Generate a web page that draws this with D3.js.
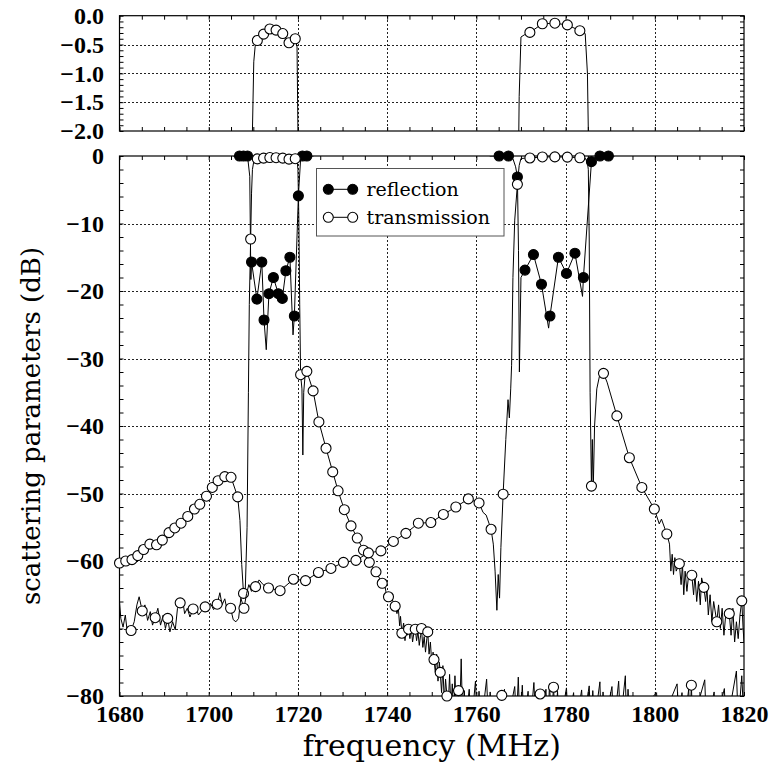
<!DOCTYPE html>
<html>
<head>
<meta charset="utf-8">
<script src="https://cdn.jsdelivr.net/npm/d3@7"></script>
<style>
  body { margin: 0; background: #fff; }
  svg { display: block; }
</style>
</head>
<body>
<svg id="chart" width="769" height="769"></svg>
<script>
// ---- axis ticks -------------------------------------------------------
const xMajor = [1680, 1700, 1720, 1740, 1760, 1780, 1800, 1820];
const xMinorStep = 5;
const mainYTicks = [0, -10, -20, -30, -40, -50, -60, -70, -80];
const mainYMinorStep = 2;
const topYTicks = [0, -0.5, -1.0, -1.5, -2.0];
const topYMinorStep = 0.1;

// ---- filter 1 (1710-1720 MHz band) -----------------------------------
// transmission, marked samples [MHz, dB]
const t1Marks = [
  [1680.0,-60.3],[1681.4,-60.0],[1682.8,-59.8],[1684.1,-59.2],[1685.4,-58.3],[1686.8,-57.5],
  [1688.3,-57.6],[1689.6,-56.9],[1691.1,-55.8],[1692.4,-55.1],[1693.8,-54.4],[1695.3,-53.4],
  [1696.8,-52.3],[1698.0,-51.6],[1699.5,-50.4],[1700.8,-49.1],[1702.1,-48.1],[1703.6,-47.5],
  [1705.0,-47.6],[1706.5,-50.5],[1707.8,-64.8],[1709.4,-12.3],[1710.9,-0.43],[1712.3,-0.32],
  [1713.7,-0.23],[1715.1,-0.25],[1716.6,-0.31],[1718.0,-0.47],[1719.4,-0.40],[1720.6,-32.4],
  [1722.0,-31.9],[1723.4,-34.8],[1724.7,-39.4],[1726.3,-43.3],[1727.8,-46.8],[1729.0,-49.6],
  [1730.4,-52.4],[1731.9,-54.8],[1733.3,-56.6],[1734.7,-58.4],[1736.0,-60.2],[1737.5,-61.6],
  [1738.9,-63.3],[1740.3,-65.3],[1741.8,-66.7],[1743.3,-70.7],[1744.8,-70.1],[1746.3,-70.1],
  [1747.7,-70.0],[1749.1,-70.5],[1750.5,-74.6],[1751.9,-76.5],[1753.4,-80.0],[1756.0,-79.2],
  [1765.7,-79.9],[1774.3,-79.7],[1777.3,-78.7],[1808.2,-78.4]
];
// transmission, remaining trace samples
const t1Trace = [
  [1707.0,-54.0],[1707.4,-60.5],[1708.2,-64.2],[1708.6,-55.0],[1708.9,-35.0],[1709.1,-22.0],
  [1709.6,-5.5],[1709.8,-2.0],[1710.1,-0.8],[1710.4,-0.54],[1719.8,-0.54],[1720.0,-2.0],
  [1720.2,-9.0],[1720.4,-22.0],[1720.9,-34.5],[1721.1,-44.3],[1721.3,-35.0],[1721.6,-32.5],
  [1739.6,-64.0],[1740.0,-65.8],[1741.0,-65.5],
  [1742.2,-67.8],[1742.5,-66.9],[1742.8,-69.6],[1743.0,-68.2],[1743.7,-69.2],[1744.0,-71.8],
  [1744.3,-69.5],[1744.5,-71.0],[1745.1,-71.5],[1745.4,-69.8],[1745.7,-72.0],[1746.0,-70.6],
  [1746.6,-71.8],[1746.9,-70.4],[1747.2,-72.5],[1747.5,-71.0],[1748.0,-72.8],[1748.3,-71.2],
  [1748.6,-73.5],[1748.9,-71.5],[1749.4,-73.8],[1749.7,-72.0],[1750.0,-75.2],[1750.3,-73.5],
  [1750.8,-76.5],[1751.1,-73.8],[1751.4,-77.8],[1751.7,-75.0],[1752.2,-79.5],[1752.5,-75.5],
  [1752.8,-81.0],[1753.1,-77.5],[1753.7,-81.5],[1754.0,-76.8],[1754.3,-82.0],[1754.6,-78.2],
  [1754.9,-83.0],[1755.2,-77.0],[1755.5,-82.0],[1755.8,-78.5],[1756.3,-82.0],[1756.6,-74.5],
  [1756.9,-83.0],[1757.3,-79.2],[1757.6,-84.0],[1758.4,-79.0],[1758.8,-85.0],[1759.8,-77.8],
  [1760.2,-84.0],[1760.6,-79.3],[1761.0,-85.0],[1762.3,-77.5],[1762.7,-84.0],[1763.1,-79.4],
  [1763.5,-85.0],[1765.4,-84.0],[1766.0,-84.0],[1766.3,-79.0],[1766.7,-85.0],[1768.6,-78.6],
  [1769.0,-84.0],[1769.4,-77.2],[1769.8,-85.0],[1770.3,-78.4],[1770.7,-84.0],[1771.6,-79.3],
  [1772.0,-85.0],[1772.9,-78.0],[1773.3,-84.0],[1774.0,-84.0],[1774.6,-84.0],[1775.6,-79.0],
  [1776.0,-85.0],[1776.4,-78.2],[1776.8,-84.0],[1777.7,-84.0],[1778.2,-79.3],[1778.6,-85.0],
  [1780.2,-78.8],[1780.6,-84.0],[1781.8,-79.5],[1782.2,-85.0],[1783.6,-79.1],[1784.0,-84.0],
  [1785.3,-78.5],[1785.7,-85.0],[1786.1,-79.2],[1786.5,-84.0],[1787.7,-77.9],[1788.0,-85.0],
  [1788.4,-79.4],[1788.8,-84.0],[1790.4,-78.6],[1790.8,-85.0],[1791.9,-77.8],[1792.3,-84.0],
  [1793.4,-77.0],[1793.7,-85.0],[1794.0,-79.0],[1794.4,-84.0],[1800.4,-79.5],[1800.8,-85.0],
  [1805.0,-78.2],[1805.4,-84.0],[1806.1,-79.5],[1806.5,-85.0],[1807.6,-79.0],[1807.9,-84.0],
  [1808.5,-84.0],[1811.2,-77.6],[1811.6,-85.0],[1813.3,-79.4],[1813.7,-84.0],[1815.6,-78.9],
  [1816.0,-85.0],[1818.3,-76.3],[1818.7,-84.0],[1819.5,-77.0],[1820.0,-84.0]
];
// reflection, marked samples
const r1Marks = [
  [1706.9,0],[1707.8,0],[1708.7,0],[1709.6,-15.7],[1710.8,-21.2],[1711.9,-15.7],[1712.4,-24.3],
  [1713.5,-20.4],[1714.5,-18.0],[1715.6,-20.4],[1716.5,-21.1],[1717.3,-17.0],[1718.2,-15.0],
  [1719.2,-23.7],[1720.1,-5.9],[1721.0,0],[1722.0,0]
];
const r1Trace = [
  [1705.5,0],[1709.2,-3.0],[1709.45,-18.3],[1712.9,-28.7],[1718.9,-26.5],[1720.6,-0.5],[1723.5,0]
];

// ---- filter 2 (1769-1785 MHz band) -----------------------------------
const t2Marks = [
  [1682.6,-70.3],[1685.1,-67.4],[1688.0,-68.4],[1690.8,-68.5],[1693.6,-66.2],[1696.5,-67.1],
  [1699.2,-66.8],[1701.9,-66.4],[1704.9,-67.0],[1707.9,-67.0],[1710.5,-63.8],[1713.4,-64.0],
  [1716.0,-64.4],[1719.0,-62.7],[1721.7,-62.9],[1724.6,-61.7],[1727.4,-61.1],[1730.2,-60.2],
  [1733.0,-59.9],[1735.8,-58.8],[1738.6,-58.5],[1741.4,-57.1],[1744.2,-55.9],[1747.0,-54.4],
  [1749.8,-54.3],[1752.6,-53.1],[1755.4,-52.0],[1758.2,-50.8],[1760.6,-51.4],[1763.3,-55.3],
  [1766.0,-50.1],[1769.2,-4.2],[1772.0,-0.29],[1774.8,-0.14],[1777.6,-0.13],[1780.4,-0.16],
  [1783.2,-0.26],[1785.8,-48.9],[1788.5,-32.2],[1791.5,-38.5],[1794.3,-44.7],[1797.1,-49.1],
  [1799.9,-52.3],[1802.7,-56.0],[1805.5,-60.4],[1808.3,-62.1],[1811.0,-63.9],[1813.9,-69.0],
  [1816.7,-67.8],[1819.5,-65.9]
];
const t2Trace = [
  [1680.0,-66.0],[1680.3,-68.5],[1680.8,-69.8],[1681.3,-68.0],[1681.8,-70.8],[1683.3,-69.0],
  [1683.9,-66.5],[1684.4,-65.3],[1685.7,-66.5],[1686.3,-68.8],[1686.9,-67.5],[1687.4,-69.5],
  [1688.6,-67.0],[1689.2,-69.5],[1689.8,-68.0],[1690.3,-70.0],[1691.3,-70.5],[1691.9,-69.0],
  [1692.5,-70.2],[1693.0,-67.0],[1694.1,-65.5],[1694.6,-67.8],[1695.2,-67.0],[1695.8,-68.3],
  [1697.1,-66.8],[1697.7,-68.0],[1698.4,-67.4],[1699.8,-67.5],[1700.4,-66.3],[1701.1,-67.2],
  [1702.5,-64.7],[1703.0,-66.5],[1703.6,-65.6],[1704.2,-67.5],[1705.5,-68.7],[1706.1,-69.0],
  [1706.7,-68.5],[1707.2,-65.5],[1708.5,-64.8],[1709.0,-63.5],[1709.6,-64.5],[1711.3,-62.8],
  [1712.2,-63.5],[1761.5,-52.8],[1762.2,-53.2],[1763.8,-57.5],[1764.2,-61.5],[1764.6,-67.3],
  [1764.9,-62.0],[1765.2,-65.5],[1765.5,-58.0],[1766.6,-42.0],[1767.1,-36.1],[1767.4,-38.8],
  [1767.7,-34.5],[1767.9,-31.0],[1768.2,-18.0],[1768.6,-9.5],[1769.6,-1.4],[1770.0,-0.37],
  [1770.8,-0.33],[1784.4,-0.31],[1784.9,-1.0],[1785.1,-2.0],[1785.3,-12.0],[1785.5,-35.0],
  [1786.0,-42.0],[1786.2,-49.5],[1786.5,-40.0],[1787.0,-34.5],[1787.6,-32.6],[1789.3,-33.5],
  [1801.0,-54.5],[1801.5,-53.8],[1803.3,-57.5],[1803.6,-61.5],[1803.9,-59.0],[1804.2,-62.0],
  [1804.5,-59.5],[1804.8,-61.5],[1805.9,-63.5],[1806.2,-60.5],[1806.5,-65.0],[1806.8,-61.5],
  [1807.2,-64.5],[1807.6,-62.0],[1808.7,-65.0],[1809.0,-62.0],[1809.4,-66.0],[1809.8,-63.0],
  [1810.2,-66.5],[1810.5,-62.5],[1811.4,-66.0],[1811.7,-64.0],[1812.0,-68.0],[1812.4,-65.0],
  [1812.8,-69.0],[1813.2,-66.0],[1814.3,-66.5],[1814.7,-70.0],[1815.1,-67.0],[1815.5,-71.0],
  [1815.9,-68.0],[1817.1,-71.0],[1817.5,-67.0],[1817.9,-72.0],[1818.3,-69.0],[1818.7,-71.5],
  [1819.1,-68.0],[1819.8,-70.0],[1820.0,-72.0]
];
const r2Marks = [
  [1765.1,0],[1767.2,0],[1769.2,-3.1],[1770.9,-16.9],[1772.8,-14.6],[1774.6,-19.0],[1776.5,-23.7],
  [1778.4,-15.0],[1780.2,-17.4],[1782.1,-14.4],[1784.0,-18.0],[1785.8,-0.84],[1787.7,0],[1789.6,0]
];
const r2Trace = [
  [1763.0,0],[1768.2,-0.4],[1768.8,-1.6],[1769.45,-14.0],[1769.65,-32.0],[1770.0,-18.0],
  [1776.2,-25.5],[1783.8,-20.8],[1786.6,-0.2],[1791.0,0]
];

const legendLabels = ["reflection", "transmission"];
const xTitle = "frequency (MHz)";
const yTitle = "scattering parameters (dB)";

// ---- layout ---------------------------------------------------------
const svg = d3.select("#chart");
const L = 119.5, R = 744;
const mainBox = {top: 156, bottom: 696};
const topBox = {top: 15.7, bottom: 131};

const x = d3.scaleLinear().domain([1680, 1820]).range([L, R]);
const yMain = d3.scaleLinear().domain([-80, 0]).range([mainBox.bottom, mainBox.top]);
const yTop = d3.scaleLinear().domain([-2, 0]).range([topBox.bottom, topBox.top]);

const tickFont = "'Liberation Serif', 'Times New Roman', serif";
const textFont = "'DejaVu Serif', serif";
const minus = s => s.replace("-", "\u2212");

const merge = (a, b) => a.concat(b).sort((p, q) => p[0] - q[0]);
const series = [
  {key: "r1", line: merge(r1Marks, r1Trace), marks: r1Marks, filled: true},
  {key: "t1", line: merge(t1Marks, t1Trace), marks: t1Marks, filled: false},
  {key: "r2", line: merge(r2Marks, r2Trace), marks: r2Marks, filled: true},
  {key: "t2", line: merge(t2Marks, t2Trace), marks: t2Marks, filled: false}
];

const defs = svg.append("defs");

function rangeStep(a, b, step) {
  const out = [];
  const n = Math.round((b - a) / step);
  for (let i = 0; i <= n; i++) out.push(+(a + i * step).toFixed(6));
  return out;
}

function panel(name, y, box, yTicks, yMinorStep, yFmt, xLabels, items) {
  const g = svg.append("g").attr("class", name);
  const h = box.bottom - box.top;

  defs.append("clipPath").attr("id", "clip-" + name)
    .append("rect").attr("x", L).attr("y", box.top).attr("width", R - L).attr("height", h);

  // dotted grid
  const grid = g.append("g").attr("stroke", "#222").attr("stroke-width", 1)
    .attr("stroke-dasharray", "2,2").attr("shape-rendering", "crispEdges");
  grid.selectAll("line.gx").data(xMajor.slice(1, -1)).join("line")
    .attr("x1", d => Math.round(x(d)) + 0.5).attr("x2", d => Math.round(x(d)) + 0.5)
    .attr("y1", box.top).attr("y2", box.bottom);
  grid.selectAll("line.gy").data(yTicks.slice(1, -1)).join("line")
    .attr("x1", L).attr("x2", R)
    .attr("y1", d => Math.round(y(d)) + 0.5).attr("y2", d => Math.round(y(d)) + 0.5);

  // inward ticks on all four sides
  const yDom = y.domain();
  const xMinor = rangeStep(1680, 1820, xMinorStep);
  const yMinor = rangeStep(yDom[0], yDom[1], yMinorStep);
  const tk = g.append("g").attr("class", "ticks");
  const styleAxis = sel => {
    sel.select(".domain").remove();
    sel.selectAll(".tick line").attr("stroke", "#000").attr("stroke-width", 1);
  };
  tk.append("g").attr("transform", `translate(0,${box.bottom})`)
    .call(d3.axisBottom(x).tickValues(xMinor).tickSize(-4).tickFormat("")).call(styleAxis);
  tk.append("g").attr("transform", `translate(0,${box.top})`)
    .call(d3.axisTop(x).tickValues(xMinor).tickSize(-4).tickFormat("")).call(styleAxis);
  tk.append("g").attr("transform", `translate(${L},0)`)
    .call(d3.axisLeft(y).tickValues(yMinor).tickSize(-4).tickFormat("")).call(styleAxis);
  tk.append("g").attr("transform", `translate(${R},0)`)
    .call(d3.axisRight(y).tickValues(yMinor).tickSize(-4).tickFormat("")).call(styleAxis);

  // tick labels
  const yl = g.append("g").attr("transform", `translate(${L},0)`)
    .call(d3.axisLeft(y).tickValues(yTicks).tickSize(0).tickPadding(15.5).tickFormat(yFmt));
  yl.select(".domain").remove();
  yl.selectAll("text").attr("font-family", tickFont).attr("font-weight", "bold")
    .attr("font-size", 24).attr("fill", "#000");
  if (xLabels) {
    const xl = g.append("g").attr("transform", `translate(0,${box.bottom})`)
      .call(d3.axisBottom(x).tickValues(xMajor).tickSize(0).tickPadding(9).tickFormat(d3.format("d")));
    xl.select(".domain").remove();
    xl.selectAll("text").attr("font-family", tickFont).attr("font-weight", "bold")
      .attr("font-size", 24).attr("fill", "#000");
  }

  // frame
  g.append("rect").attr("x", L).attr("y", box.top).attr("width", R - L).attr("height", h)
    .attr("fill", "none").attr("stroke", "#000").attr("stroke-width", 1.2);

  // traces and markers
  const line = d3.line().x(d => x(d[0])).y(d => y(d[1]));
  const [lo, hi] = y.domain();
  items.forEach(s => {
    const sg = g.append("g").attr("class", s.key);
    sg.append("path").datum(s.line).attr("d", line)
      .attr("clip-path", `url(#clip-${name})`)
      .attr("fill", "none").attr("stroke", "#000").attr("stroke-width", 1)
      .attr("stroke-linejoin", "round");
    sg.selectAll("circle").data(s.marks.filter(d => d[1] >= lo - 1e-9 && d[1] <= hi + 1e-9))
      .join("circle")
      .attr("cx", d => x(d[0])).attr("cy", d => y(d[1])).attr("r", 5)
      .attr("fill", s.filled ? "#000" : "#fff").attr("stroke", "#000").attr("stroke-width", 1.1);
  });
}

panel("top", yTop, topBox, topYTicks, topYMinorStep, d => minus(d3.format(".1f")(d)), false,
  series.filter(s => !s.filled));
panel("main", yMain, mainBox, mainYTicks, mainYMinorStep, d => minus(d3.format("d")(d)), true, series);

// ---- legend -----------------------------------------------------------
const lg = svg.append("g").attr("class", "legend");
lg.append("rect").attr("x", 316.5).attr("y", 168.5).attr("width", 187.5).attr("height", 67.5)
  .attr("fill", "#fff").attr("stroke", "#555").attr("stroke-width", 1);
legendLabels.forEach((lab, i) => {
  const cy = 189.3 + i * 28;
  const row = lg.append("g");
  row.append("line").attr("x1", 328.3).attr("x2", 352.7).attr("y1", cy).attr("y2", cy)
    .attr("stroke", "#000").attr("stroke-width", 1);
  [328.3, 352.7].forEach(cx => row.append("circle").attr("cx", cx).attr("cy", cy).attr("r", 5)
    .attr("fill", i === 0 ? "#000" : "#fff").attr("stroke", "#000").attr("stroke-width", 1.1));
  row.append("text").attr("x", 366.5).attr("y", cy + 6.8)
    .attr("font-family", textFont).attr("font-size", 19).attr("fill", "#000").text(lab);
});

// ---- axis titles --------------------------------------------------------
svg.append("text").attr("x", (L + R) / 2).attr("y", 755.5).attr("text-anchor", "middle")
  .attr("font-family", textFont).attr("font-size", 30).attr("fill", "#000").text(xTitle);
svg.append("text").attr("transform", `translate(40,${(mainBox.top + mainBox.bottom) / 2}) rotate(-90)`)
  .attr("text-anchor", "middle")
  .attr("font-family", textFont).attr("font-size", 26).attr("fill", "#000").text(yTitle);
</script>
</body>
</html>
